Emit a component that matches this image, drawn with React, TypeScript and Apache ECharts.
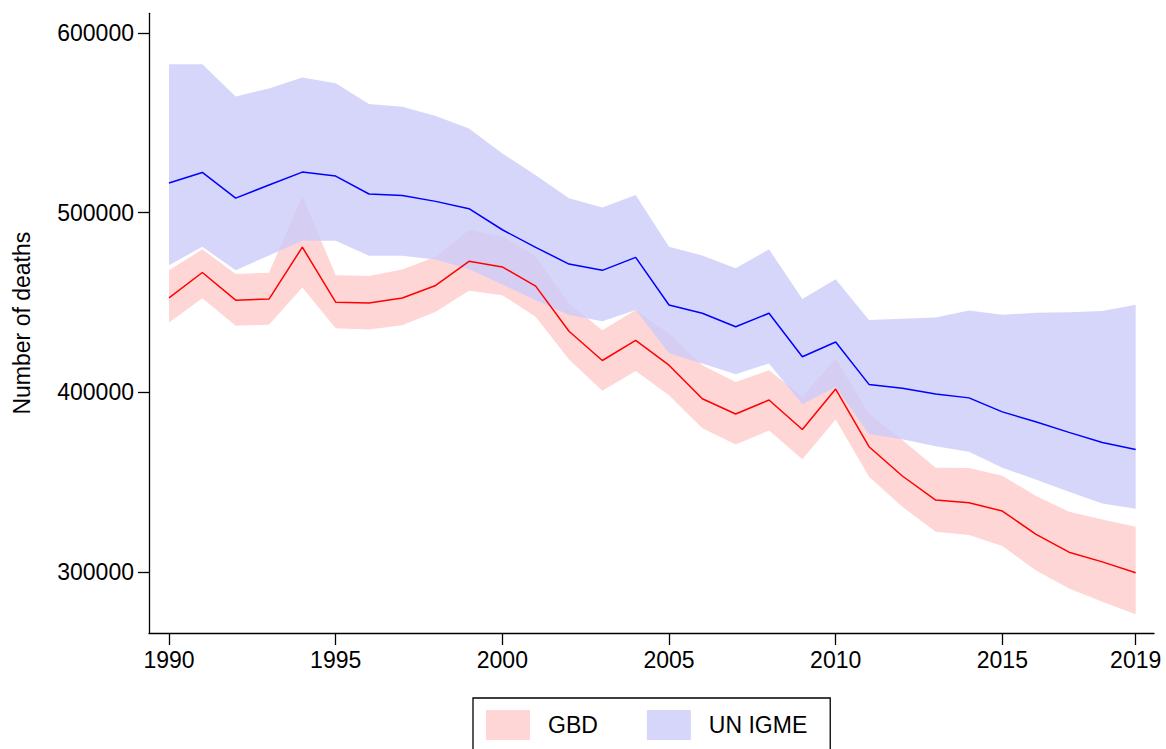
import React, { useEffect, useRef } from "react";
import * as echarts from "echarts";

const years = [
  1990, 1991, 1992, 1993, 1994, 1995, 1996, 1997, 1998, 1999,
  2000, 2001, 2002, 2003, 2004, 2005, 2006, 2007, 2008, 2009,
  2010, 2011, 2012, 2013, 2014, 2015, 2016, 2017, 2018, 2019,
];

const unIgmeMid = [
  516500, 522400, 508100, 515400, 522600, 520400, 510400, 509600, 506300, 502200,
  490500, 480700, 471400, 467900, 475100, 448600, 444000, 436500, 444000, 419800,
  428000, 404400, 402300, 399000, 396900, 389100, 383600, 377700, 372100, 368200,
];
const unIgmeUpper = [
  582700, 582700, 564700, 569200, 575300, 572000, 560500, 559000, 553800, 546900,
  533000, 520900, 508000, 502900, 509800, 481000, 476200, 469000, 479600, 451900,
  463000, 440200, 440900, 441700, 445600, 443200, 444300, 444500, 445200, 448700,
];
const unIgmeLower = [
  470800, 481000, 468000, 476200, 484400, 484400, 476000, 476000, 474000, 468500,
  460000, 451300, 443000, 439600, 445800, 421700, 416100, 410100, 416100, 393400,
  403000, 376700, 373800, 370000, 366900, 358000, 351500, 344600, 338100, 335200,
];

const gbdMid = [
  452600, 466700, 451300, 451900, 480800, 450200, 449700, 452500, 459500, 472900,
  469800, 459100, 434000, 417700, 428900, 415100, 396400, 387900, 395700, 379300,
  401800, 369700, 353400, 340000, 338500, 333900, 321000, 311000, 305600, 299500,
];
const gbdUpper = [
  468000, 479600, 465800, 466600, 509400, 465200, 464700, 468400, 475500, 490300,
  487000, 475800, 449500, 434500, 445800, 432800, 415100, 405800, 412300, 397500,
  418900, 388200, 373400, 358000, 357800, 353500, 342400, 333500, 329200, 325100,
];
const gbdLower = [
  438900, 452300, 437100, 437600, 458400, 435600, 435000, 437300, 444900, 456500,
  454100, 442000, 418200, 400900, 411900, 398400, 380000, 371000, 378700, 362700,
  384900, 353000, 336300, 322300, 320500, 314400, 301000, 290800, 283400, 276500,
];

const xTicks = [1990, 1995, 2000, 2005, 2010, 2015, 2019];
const yTicks = [300000, 400000, 500000, 600000];

const FONT = "'Liberation Sans', Arial, Helvetica, sans-serif";
const PINK = "#ffd6d6";
const BLUE_BAND = "rgba(204,204,249,0.8)";

const pairs = (vals: number[]) => years.map((y, i) => [y, vals[i]]);

function bandSeries(name: string, upper: number[], lower: number[], fill: string) {
  return {
    name,
    type: "custom",
    silent: true,
    itemStyle: { color: fill },
    data: [[years[0], lower[0]]],
    renderItem: (_params: any, api: any) => {
      const top = years.map((y, i) => api.coord([y, upper[i]]));
      const bottom = years.map((y, i) => api.coord([y, lower[i]])).reverse();
      return {
        type: "polygon",
        shape: { points: top.concat(bottom) },
        style: { fill, stroke: "none" },
      };
    },
  };
}

export default function App() {
  const ref = useRef<HTMLDivElement>(null);

  useEffect(() => {
    if (!ref.current) return;
    const chart = echarts.init(ref.current, undefined, { renderer: "svg" });
    const axisCommon = {
      axisLine: { show: true, lineStyle: { color: "#000", width: 1.3 } },
      splitLine: { show: false },
    };
    chart.setOption({
      animation: false,
      backgroundColor: "#fff",
      textStyle: { fontFamily: FONT },
      grid: { left: 149, right: 12, top: 13.3, bottom: 116, containLabel: false },
      xAxis: {
        type: "value",
        min: 1989.4,
        max: 2019.55,
        ...axisCommon,
        axisTick: {
          show: true,
          length: 12,
          lineStyle: { color: "#000", width: 1.3 },
          customValues: xTicks,
        },
        axisLabel: {
          customValues: xTicks,
          formatter: (v: number) => String(v),
          fontSize: 23,
          color: "#000",
          fontFamily: FONT,
          margin: 15,
        },
      },
      yAxis: {
        type: "value",
        min: 266000,
        max: 611000,
        ...axisCommon,
        name: "Number of deaths",
        nameLocation: "middle",
        nameGap: 116,
        nameTextStyle: { fontSize: 23, color: "#000", fontFamily: FONT },
        axisTick: {
          show: true,
          length: 11,
          lineStyle: { color: "#000", width: 1.3 },
          customValues: yTicks,
        },
        axisLabel: {
          customValues: yTicks,
          formatter: (v: number) => String(v),
          fontSize: 23,
          color: "#000",
          fontFamily: FONT,
          margin: 15,
        },
      },
      legend: {
        left: 473,
        top: 698,
        orient: "horizontal",
        selectedMode: false,
        itemWidth: 44,
        itemHeight: 30,
        itemGap: 49,
        padding: [12, 23, 14, 13],
        borderColor: "#000",
        borderWidth: 1.3,
        textStyle: { fontSize: 23, color: "#000", fontFamily: FONT, padding: [0, 0, 0, 13] },
        data: [
          { name: "GBD", icon: "rect", itemStyle: { color: PINK, borderWidth: 0 } },
          { name: "UN IGME", icon: "rect", itemStyle: { color: BLUE_BAND, borderWidth: 0 } },
        ],
      },
      series: [
        bandSeries("GBD", gbdUpper, gbdLower, PINK),
        bandSeries("UN IGME", unIgmeUpper, unIgmeLower, BLUE_BAND),
        {
          name: "GBD estimate",
          type: "line",
          symbol: "none",
          lineStyle: { color: "#ff0000", width: 1.5 },
          data: pairs(gbdMid),
          silent: true,
        },
        {
          name: "UN IGME estimate",
          type: "line",
          symbol: "none",
          lineStyle: { color: "#0000ff", width: 1.5 },
          data: pairs(unIgmeMid),
          silent: true,
        },
      ],
    });
    return () => chart.dispose();
  }, []);

  return (
    <div
      ref={ref}
      style={{ position: "fixed", left: 0, top: 0, width: 1166, height: 749, background: "#fff" }}
    />
  );
}
